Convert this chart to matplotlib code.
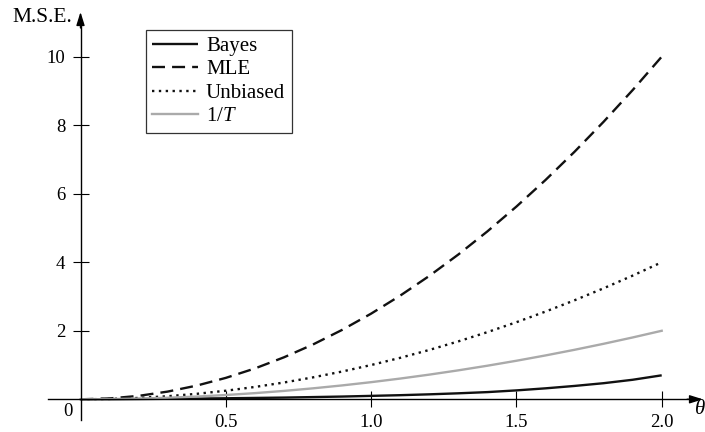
import matplotlib
matplotlib.use("Agg")
import matplotlib.pyplot as plt

plt.rcParams['font.family'] = ['Liberation Serif', 'DejaVu Serif']
plt.rcParams['mathtext.fontset'] = 'custom'
plt.rcParams['mathtext.rm'] = 'Liberation Serif'
plt.rcParams['mathtext.it'] = 'Liberation Serif:italic'

theta = [0.0, 0.1, 0.2, 0.3, 0.4, 0.5, 0.6, 0.7, 0.8, 0.9, 1.0,
         1.1, 1.2, 1.3, 1.4, 1.5, 1.6, 1.7, 1.8, 1.9, 2.0]
bayes = [0.0, 0.002, 0.008, 0.015, 0.022, 0.03, 0.04, 0.05, 0.065, 0.08, 0.10,
         0.12, 0.145, 0.175, 0.21, 0.26, 0.32, 0.39, 0.47, 0.57, 0.70]
mle = [0.0, 0.025, 0.10, 0.225, 0.40, 0.625, 0.90, 1.225, 1.60, 2.025, 2.50,
       3.025, 3.60, 4.225, 4.90, 5.625, 6.40, 7.225, 8.10, 9.025, 10.0]
unbiased = [0.0, 0.01, 0.04, 0.09, 0.16, 0.25, 0.36, 0.49, 0.64, 0.81, 1.00,
            1.21, 1.44, 1.69, 1.96, 2.25, 2.56, 2.89, 3.24, 3.61, 4.00]
inv_t = [0.0, 0.005, 0.02, 0.045, 0.08, 0.125, 0.18, 0.245, 0.32, 0.405, 0.50,
         0.605, 0.72, 0.845, 0.98, 1.125, 1.28, 1.445, 1.62, 1.805, 2.00]
labels = ['Bayes', 'MLE', 'Unbiased', '1/$T$']
xticks = [0.5, 1.0, 1.5, 2.0]
xticklabels = ['0.5', '1.0', '1.5', '2.0']
yticks = [2, 4, 6, 8, 10]
yticklabels = ['2', '4', '6', '8', '10']

W, H = 705, 432
fig = plt.figure(figsize=(W / 100, H / 100), dpi=100)
ax = fig.add_axes([0, 0, 1, 1])

# pixel mapping
x0_px, x_scale = 80.5, 290.6
y0_px, y_scale = 399.3, 34.26
ax.set_xlim(-x0_px / x_scale, (W - x0_px) / x_scale)
ax.set_ylim(-(H - y0_px) / y_scale, y0_px / y_scale)
ax.patch.set_visible(False)

lw = 1.7
ax.plot(theta, bayes, color='#111111', lw=lw, solid_capstyle='butt')
ax.plot(theta, mle, color='#111111', lw=lw, dashes=(5.5, 3.0))
ax.plot(theta, unbiased, color='#111111', lw=lw, dashes=(1.0, 1.9))
ax.plot(theta, inv_t, color='#aaaaaa', lw=lw)

for s in ['top', 'right']:
    ax.spines[s].set_visible(False)
ax.spines['left'].set_position(('data', 0))
ax.spines['bottom'].set_position(('data', 0))
ax.spines['left'].set_bounds(-(420 - y0_px) / y_scale, (y0_px - 24) / y_scale)
ax.spines['bottom'].set_bounds((48 - x0_px) / x_scale, (690 - x0_px) / x_scale)
for s in ['left', 'bottom']:
    ax.spines[s].set_linewidth(1.0)

# arrowheads
ax.annotate('', xy=(0, (y0_px - 12) / y_scale), xytext=(0, (y0_px - 28) / y_scale),
            arrowprops=dict(arrowstyle='-|>,head_length=0.8,head_width=0.25', color='black', lw=1.0,
                            shrinkA=0, shrinkB=0))
ax.annotate('', xy=((703 - x0_px) / x_scale, 0), xytext=((687 - x0_px) / x_scale, 0),
            arrowprops=dict(arrowstyle='-|>,head_length=0.8,head_width=0.25', color='black', lw=1.0,
                            shrinkA=0, shrinkB=0))

ax.set_xticks(xticks)
ax.set_xticklabels(xticklabels)
ax.set_yticks(yticks)
ax.set_yticklabels(yticklabels)
ax.tick_params(axis='both', direction='inout', length=12, width=0.8, labelsize=13.5, color='black')
ax.tick_params(axis='y', pad=5.0)
ax.tick_params(axis='x', pad=4.5)

ax.text((67.5 - x0_px) / x_scale, -(412 - y0_px) / y_scale, '0', fontsize=13.5, ha='center', va='center')
ax.text((72 - x0_px) / x_scale, (y0_px - 18) / y_scale, 'M.S.E.', fontsize=15.5, ha='right', va='center')
ax.text((694 - x0_px) / x_scale, -(409 - y0_px) / y_scale, r'$\theta$', fontsize=15, ha='left', va='center')

leg = ax.legend(labels, loc='upper left', bbox_to_anchor=(146 / W, 1 - 30 / H),
                bbox_transform=fig.transFigure, frameon=True, fancybox=False,
                edgecolor='black', fontsize=15, handlelength=2.2, handletextpad=0.38,
                labelspacing=0.19, borderpad=0.3, borderaxespad=0)
leg.get_frame().set_linewidth(0.9)

fig.savefig('out.png', dpi=100)
